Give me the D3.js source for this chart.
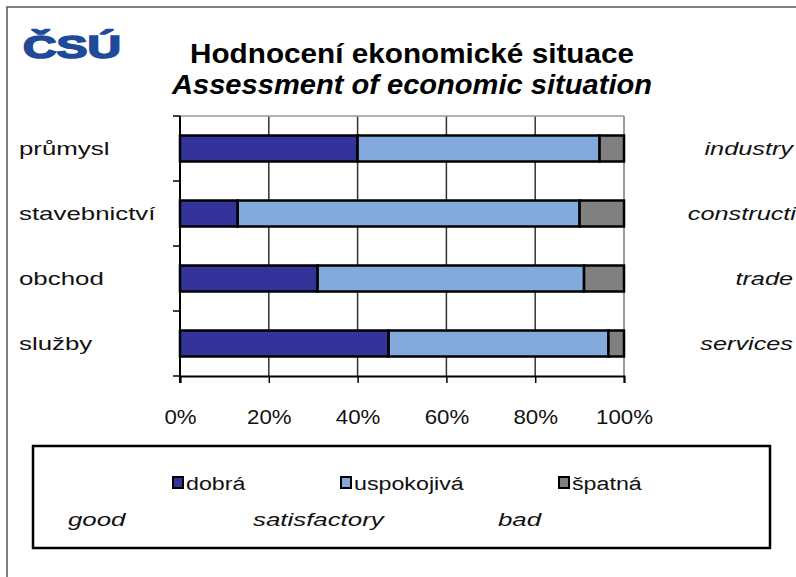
<!DOCTYPE html>
<html lang="cs">
<head>
    <meta charset="UTF-8">
    <title>Hodnocení ekonomické situace</title>
    <script src="https://d3js.org/d3.v7.min.js"></script>
    <style>
        body {margin: 0; background: white;}
        text {font-family: "Liberation Sans", Arial, sans-serif;}
    </style>
</head>
<body>
<script>
    const width = 796;
    const height = 577;

    const categories = ["průmysl", "stavebnictví", "obchod", "služby"];
    const categoriesEn = ["industry", "constructi", "trade", "services"];
    const seriesNames = ["dobrá", "uspokojivá", "špatná"];
    const seriesNamesEn = ["good", "satisfactory", "bad"];
    const dobra = [40, 13, 31, 47];
    const uspokojiva = [54.5, 77, 60, 49.5];
    const spatna = [5.5, 10, 9, 3.5];
    const xTicks = [0, 20, 40, 60, 80, 100];

    const colors = ["#333399", "#84a9dc", "#808080"];

    const svg = d3.select("body").append("svg")
            .attr("width", width).attr("height", height);

    // the original text is drawn a bit wide, so stretch it horizontally
    function stretch(sel, factor) {
        sel.each(function() {
            const w = this.getComputedTextLength();
            d3.select(this).attr("textLength", w * factor).attr("lengthAdjust", "spacingAndGlyphs");
        });
    }

    // outer frame
    svg.append("rect")
            .attr("x", 7).attr("y", 7)
            .attr("width", 820).attr("height", 620)
            .style("fill", "white").style("stroke", "#555").style("stroke-width", 1.5);

    // logo
    svg.append("text")
            .attr("x", 23).attr("y", 58)
            .attr("textLength", 98).attr("lengthAdjust", "spacingAndGlyphs")
            .style("font-size", "31px").style("font-weight", "900")
            .style("fill", "#1f4a9a").style("stroke", "#1f4a9a").style("stroke-width", 1.6)
            .text("ČSÚ");

    // titles
    svg.append("text")
            .attr("x", 190).attr("y", 63)
            .attr("textLength", 444).attr("lengthAdjust", "spacingAndGlyphs")
            .style("font-size", "27px").style("font-weight", "bold")
            .text("Hodnocení  ekonomické situace");
    svg.append("text")
            .attr("x", 172).attr("y", 94)
            .attr("textLength", 480).attr("lengthAdjust", "spacingAndGlyphs")
            .style("font-size", "27px").style("font-weight", "bold").style("font-style", "italic")
            .text("Assessment of economic situation");

    const margin = {left: 180, right: 624, top: 116, bottom: 376};

    const x = d3.scaleLinear().domain([0, 100]).range([margin.left, margin.right]);
    const y = d3.scaleBand().domain(categories).range([margin.top, margin.bottom]).paddingInner(0.6).paddingOuter(0.3);
    const yTicks = d3.scalePoint().domain(d3.range(categories.length + 1)).range([margin.top, margin.bottom]);

    // gridlines
    svg.selectAll("line.grid")
            .data(xTicks.slice(1, -1))
            .enter().append("line")
            .attr("class", "grid")
            .attr("x1", d => x(d)).attr("x2", d => x(d))
            .attr("y1", margin.top).attr("y2", margin.bottom)
            .style("stroke", "#333").style("stroke-width", 1.5);

    // plot border top/right (gray)
    svg.append("line")
            .attr("x1", margin.left).attr("x2", margin.right)
            .attr("y1", margin.top).attr("y2", margin.top)
            .style("stroke", "#999").style("stroke-width", 1.5);
    svg.append("line")
            .attr("x1", margin.right).attr("x2", margin.right)
            .attr("y1", margin.top).attr("y2", margin.bottom)
            .style("stroke", "#999").style("stroke-width", 2);

    // stacked bars
    const rows = categories.map((c, i) => ({cat: c, vals: [dobra[i], uspokojiva[i], spatna[i]]}));
    const stack = d3.stack().keys([0, 1, 2]).value((d, k) => d.vals[k]);
    const layers = stack(rows);

    svg.selectAll("g.layer")
            .data(layers)
            .enter().append("g")
            .attr("class", "layer")
            .style("fill", (d, i) => colors[i])
            .selectAll("rect")
            .data(d => d)
            .enter().append("rect")
            .attr("x", d => x(d[0]))
            .attr("width", d => x(d[1]) - x(d[0]))
            .attr("y", d => y(d.data.cat))
            .attr("height", y.bandwidth())
            .style("stroke", "black").style("stroke-width", 2.5);

    // axes
    const xAxis = svg.append("g")
            .attr("transform", `translate(0,${margin.bottom})`)
            .call(d3.axisBottom(x).tickValues(xTicks).tickFormat(d => d + "%").tickSize(7).tickPadding(26));
    xAxis.select(".domain").style("stroke", "black").style("stroke-width", 2);
    xAxis.selectAll(".tick line").style("stroke", "black").style("stroke-width", 1.5);
    xAxis.selectAll("text")
            .attr("font-size", null).attr("font-family", null)
            .style("font-size", "21px").style("fill", "#111");
    stretch(xAxis.selectAll("text"), 1.06);

    svg.append("line")
            .attr("x1", margin.left).attr("x2", margin.left)
            .attr("y1", margin.top).attr("y2", margin.bottom + 7)
            .style("stroke", "black").style("stroke-width", 2);
    svg.selectAll("line.ytick")
            .data(yTicks.domain())
            .enter().append("line")
            .attr("class", "ytick")
            .attr("x1", margin.left - 7).attr("x2", margin.left)
            .attr("y1", d => yTicks(d)).attr("y2", d => yTicks(d))
            .style("stroke", "black").style("stroke-width", 1.5);

    // category labels
    const catL = svg.selectAll("text.cat")
            .data(categories)
            .enter().append("text")
            .attr("class", "cat")
            .attr("x", 19)
            .attr("y", d => y(d) + y.bandwidth() / 2 + 6)
            .style("font-size", "19px").style("fill", "#111")
            .text(d => d);
    stretch(catL, 1.36);
    const catR = svg.selectAll("text.caten")
            .data(categoriesEn)
            .enter().append("text")
            .attr("class", "caten")
            .attr("x", (d, i) => i === 1 ? 796 : 793)
            .attr("text-anchor", "end")
            .attr("y", (d, i) => y(categories[i]) + y.bandwidth() / 2 + 6)
            .style("font-size", "19px").style("font-style", "italic").style("fill", "#111")
            .text(d => d);
    stretch(catR, 1.33);

    // legend
    svg.append("rect")
            .attr("x", 33).attr("y", 446)
            .attr("width", 737).attr("height", 102)
            .style("fill", "white").style("stroke", "black").style("stroke-width", 2.5);

    const legendX = [172, 340, 558];
    const legendEnX = [68, 253, 498];

    const leg = svg.selectAll("g.legend")
            .data(seriesNames)
            .enter().append("g")
            .attr("class", "legend")
            .attr("transform", (d, i) => `translate(${legendX[i]},483)`);
    leg.append("rect")
            .attr("x", 1).attr("y", -6)
            .attr("width", 10).attr("height", 11)
            .style("fill", (d, i) => colors[i])
            .style("stroke", "black").style("stroke-width", 2);
    const legT = leg.append("text")
            .attr("x", 14).attr("y", 7)
            .style("font-size", "18px").style("fill", "#111")
            .text(d => d);
    stretch(legT, 1.29);

    const legEn = svg.selectAll("text.legen")
            .data(seriesNamesEn)
            .enter().append("text")
            .attr("class", "legen")
            .attr("x", (d, i) => legendEnX[i]).attr("y", 526)
            .style("font-size", "19px").style("font-style", "italic").style("fill", "#111")
            .text(d => d);
    stretch(legEn, 1.36);
</script>
</body>
</html>
